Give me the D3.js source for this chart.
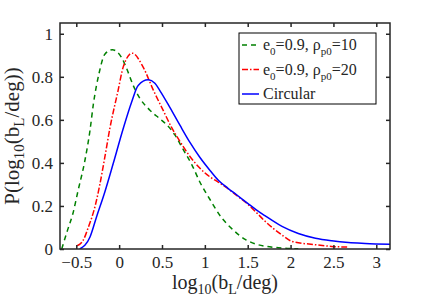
<!DOCTYPE html>
<html>
<head>
<meta charset="utf-8">
<script src="https://cdn.jsdelivr.net/npm/d3@7"></script>
<style>
  body { margin: 0; background: #fff; }
  svg text { font-family: "Liberation Serif", "Times New Roman", Times, serif !important; fill: #262626; }
</style>
</head>
<body>
<div id="chart"></div>
<script>
// Data
const greenX = [-0.67, -0.6, -0.54, -0.48, -0.40, -0.34, -0.30, -0.235, -0.167, -0.08, 0.028, 0.086, 0.164, 0.242, 0.359, 0.475, 0.553, 0.65, 0.75, 0.85, 0.943, 1.06, 1.196, 1.3, 1.47, 1.62, 1.86, 2.09];
const greenY = [0, 0.09, 0.164, 0.27, 0.41, 0.551, 0.675, 0.815, 0.905, 0.926, 0.89, 0.84, 0.76, 0.70, 0.645, 0.605, 0.578, 0.53, 0.46, 0.39, 0.31, 0.23, 0.145, 0.10, 0.045, 0.02, 0.006, 0.001];

const redX = [-0.49, -0.42, -0.36, -0.28, -0.225, -0.167, -0.109, -0.012, 0.047, 0.152, 0.28, 0.40, 0.514, 0.61, 0.709, 0.826, 0.943, 1.06, 1.16, 1.27, 1.37, 1.51, 1.6, 1.7, 1.8, 1.9, 2.02, 2.29, 2.48, 2.66];
const redY = [0.015, 0.04, 0.10, 0.20, 0.30, 0.427, 0.559, 0.737, 0.845, 0.91, 0.845, 0.737, 0.644, 0.566, 0.50, 0.43, 0.375, 0.335, 0.31, 0.28, 0.249, 0.205, 0.17, 0.13, 0.095, 0.065, 0.035, 0.02, 0.012, 0.009];

const blueX = [-0.46, -0.34, -0.264, -0.167, -0.07, 0.047, 0.145, 0.222, 0.339, 0.417, 0.475, 0.59, 0.709, 0.826, 0.943, 1.06, 1.16, 1.27, 1.37, 1.5, 1.6, 1.7, 1.9, 2.09, 2.29, 2.48, 2.675, 2.87, 3.16];
const blueY = [0, 0.056, 0.149, 0.265, 0.396, 0.559, 0.682, 0.76, 0.786, 0.77, 0.736, 0.659, 0.575, 0.495, 0.425, 0.365, 0.318, 0.282, 0.252, 0.212, 0.182, 0.155, 0.105, 0.072, 0.05, 0.038, 0.03, 0.026, 0.022];

const xTicks = [-0.5, 0, 0.5, 1, 1.5, 2, 2.5, 3];
const yTicks = [0, 0.2, 0.4, 0.6, 0.8, 1];

// SVG dimensions
const width = 431;
const height = 305;
const margin = { top: 23, right: 41, bottom: 56, left: 60 };
const serif = "'Liberation Serif', 'Times New Roman', serif";

const svg = d3.select("#chart").append("svg")
  .attr("width", width)
  .attr("height", height)
  .attr("font-family", serif);

const x = d3.scaleLinear().domain([-0.69, 3.16]).range([margin.left, width - margin.right]);
const y = d3.scaleLinear().domain([0, 1.05]).range([height - margin.bottom, margin.top]);

// Curves
const series = [
  { xs: greenX, ys: greenY, color: "#008000", dash: "5,4" },
  { xs: redX, ys: redY, color: "#ff0000", dash: "6,2,1.5,2" },
  { xs: blueX, ys: blueY, color: "#0000ff", dash: null }
];

const line = d3.line()
  .x(d => x(d[0]))
  .y(d => y(d[1]))
  .curve(d3.curveMonotoneX);

svg.append("defs").append("clipPath").attr("id", "clip")
  .append("rect")
  .attr("x", margin.left).attr("y", margin.top)
  .attr("width", width - margin.left - margin.right)
  .attr("height", height - margin.top - margin.bottom);

const plot = svg.append("g").attr("clip-path", "url(#clip)");

series.forEach(s => {
  plot.append("path")
    .datum(s.xs.map((v, i) => [v, s.ys[i]]))
    .attr("d", line)
    .attr("fill", "none")
    .attr("stroke", s.color)
    .attr("stroke-width", 1.5)
    .attr("stroke-dasharray", s.dash);
});

// Axes (box with inward ticks on all sides)
const tickLen = 4;
const axisColor = "#262626";

svg.append("g")
  .attr("transform", `translate(0,${height - margin.bottom})`)
  .call(d3.axisBottom(x).tickValues(xTicks).tickSizeInner(-tickLen).tickSizeOuter(0).tickPadding(7).tickFormat(d3.format("")))
  .call(g => g.select(".domain").remove());

svg.append("g")
  .attr("transform", `translate(0,${margin.top})`)
  .call(d3.axisTop(x).tickValues(xTicks).tickSizeInner(-tickLen).tickSizeOuter(0).tickFormat(""))
  .call(g => g.select(".domain").remove());

svg.append("g")
  .attr("transform", `translate(${margin.left},0)`)
  .call(d3.axisLeft(y).tickValues(yTicks).tickSizeInner(-tickLen).tickSizeOuter(0).tickPadding(7).tickFormat(d3.format("")))
  .call(g => g.select(".domain").remove());

svg.append("g")
  .attr("transform", `translate(${width - margin.right},0)`)
  .call(d3.axisRight(y).tickValues(yTicks).tickSizeInner(-tickLen).tickSizeOuter(0).tickFormat(""))
  .call(g => g.select(".domain").remove());

svg.selectAll("g").attr("font-family", serif);
svg.selectAll(".tick line").attr("stroke", axisColor).attr("stroke-width", 1.5);
svg.selectAll(".tick text")
  .attr("font-family", serif)
  .attr("font-size", 17)
  .attr("fill", axisColor);

svg.append("rect")
  .attr("x", margin.left).attr("y", margin.top)
  .attr("width", width - margin.left - margin.right)
  .attr("height", height - margin.top - margin.bottom)
  .attr("fill", "none")
  .attr("stroke", axisColor)
  .attr("stroke-width", 1.5);

// Axis labels
const xl = svg.append("text")
  .attr("x", (margin.left + width - margin.right) / 2)
  .attr("y", 289)
  .attr("text-anchor", "middle")
  .attr("font-size", 20);
xl.append("tspan").text("log");
xl.append("tspan").attr("dy", 5).attr("font-size", 14).text("10");
xl.append("tspan").attr("dy", -5).text("(b");
xl.append("tspan").attr("dy", 5).attr("font-size", 14).text("L");
xl.append("tspan").attr("dy", -5).text("/deg)");

const yl = svg.append("text")
  .attr("transform", `translate(19,${(margin.top + height - margin.bottom) / 2}) rotate(-90)`)
  .attr("text-anchor", "middle")
  .attr("font-size", 21);
yl.append("tspan").text("P(log");
yl.append("tspan").attr("dy", 5).attr("font-size", 15).text("10");
yl.append("tspan").attr("dy", -5).text("(b");
yl.append("tspan").attr("dy", 5).attr("font-size", 15).text("L");
yl.append("tspan").attr("dy", -5).text("/deg))");

// Legend
const legend = svg.append("g");
legend.append("rect")
  .attr("x", 239).attr("y", 33)
  .attr("width", 137).attr("height", 71)
  .attr("fill", "#fff")
  .attr("stroke", "#000")
  .attr("stroke-width", 1);

const legendRows = [
  { parts: [["e", 0], ["0", 1], ["=0.9, ρ", 0], ["p0", 1], ["=10", 0]], color: "#008000", dash: "5,4" },
  { parts: [["e", 0], ["0", 1], ["=0.9, ρ", 0], ["p0", 1], ["=20", 0]], color: "#ff0000", dash: "6,2,1.5,2" },
  { parts: [["Circular", 0]], color: "#0000ff", dash: null }
];

legendRows.forEach((r, i) => {
  const cy = 45 + i * 24.5;
  legend.append("line")
    .attr("x1", 242).attr("x2", 259)
    .attr("y1", cy).attr("y2", cy)
    .attr("stroke", r.color)
    .attr("stroke-width", 1.5)
    .attr("stroke-dasharray", r.dash);
  const t = legend.append("text")
    .attr("x", 263).attr("y", cy + 5)
    .attr("font-size", 16);
  let sub = 0;
  r.parts.forEach(([s, isSub]) => {
    const dy = isSub ? (sub ? 0 : 5) : (sub ? -5 : 0);
    sub = isSub;
    t.append("tspan").attr("dy", dy).attr("font-size", isSub ? 11 : 16).text(s);
  });
});
</script>
</body>
</html>
